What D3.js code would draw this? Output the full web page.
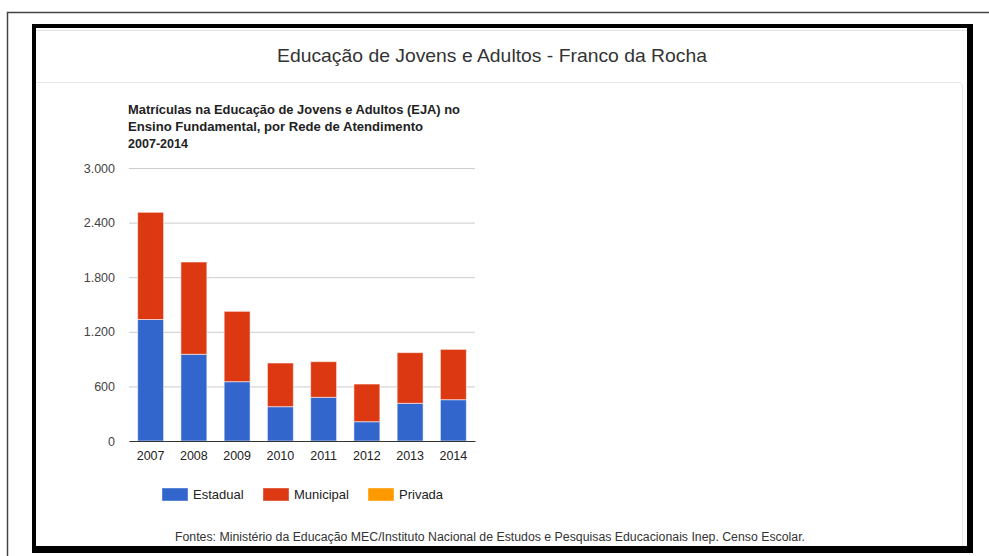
<!DOCTYPE html>
<html>
<head>
<meta charset="utf-8">
<script src="https://cdn.jsdelivr.net/npm/d3@7"></script>
<style>
  html, body { margin: 0; padding: 0; background: #fff; }
  svg { display: block; }
  text { font-family: "Liberation Sans Narrow", "Arial Narrow", "Liberation Sans", Arial, sans-serif; }
</style>
</head>
<body>
<svg id="chart" width="989" height="556"></svg>
<script>
// Matrículas na EJA (Ensino Fundamental) por rede de atendimento
const years = ["2007", "2008", "2009", "2010", "2011", "2012", "2013", "2014"];
const estadual  = [1335, 953, 652, 377, 480, 212, 414, 454];
const municipal = [1178, 1014, 773, 480, 392, 414, 557, 553];
const privada   = [0, 0, 0, 0, 0, 0, 0, 0];

const seriesNames  = ["Estadual", "Municipal", "Privada"];
const seriesColors = ["#3366cc", "#dc3912", "#ff9900"];
const yTicks = [0, 600, 1200, 1800, 2400, 3000];

const pageTitle = "Educação de Jovens e Adultos - Franco da Rocha";
const chartTitle = [
  "Matrículas na Educação de Jovens e Adultos (EJA) no",
  "Ensino Fundamental, por Rede de Atendimento",
  "2007-2014"
];
const sourceNote = "Fontes: Ministério da Educação  MEC/Instituto Nacional de Estudos e Pesquisas Educacionais  Inep. Censo Escolar.";

const svg = d3.select("#chart");

// ---- page frame ----
svg.append("path")
  .attr("d", "M7.5,556 V12.5 H989")
  .attr("fill", "none").attr("stroke", "#444").attr("stroke-width", 1.5);

// panel with header
svg.append("line").attr("x1", 36).attr("x2", 967).attr("y1", 30.5).attr("y2", 30.5)
  .attr("stroke", "#e3e3e3");
svg.append("path")
  .attr("d", "M36,82.5 H958 Q962.5,82.5 962.5,87 V546")
  .attr("fill", "none").attr("stroke", "#e6e6e6").attr("stroke-width", 1);

// thick black border
const border = [
  { x: 32, y: 24, w: 941, h: 4 },
  { x: 32, y: 24, w: 4, h: 529 },
  { x: 967, y: 24, w: 6, h: 529 },
  { x: 32, y: 546, w: 941, h: 7 }
];
svg.selectAll("rect.border").data(border).join("rect")
  .attr("class", "border")
  .attr("x", d => d.x).attr("y", d => d.y).attr("width", d => d.w).attr("height", d => d.h)
  .attr("fill", "#000");

// page title
svg.append("text")
  .attr("x", 492).attr("y", 62)
  .attr("text-anchor", "middle")
  .attr("font-size", 19)
  .attr("fill", "#333")
  .attr("textLength", 430).attr("lengthAdjust", "spacingAndGlyphs")
  .text(pageTitle);

// ---- chart ----
const plot = { left: 129, right: 475, top: 168, bottom: 441 };

const x = d3.scaleBand().domain(years).range([plot.left, plot.right]).paddingInner(0.4).paddingOuter(0.2);
const y = d3.scaleLinear().domain([0, 3000]).range([plot.bottom, plot.top]);

// chart title (bold, three lines)
const titleWidths = [332, 295, 60];
svg.append("g").selectAll("text").data(chartTitle).join("text")
  .attr("x", 128)
  .attr("y", (d, i) => 114 + i * 17)
  .attr("font-size", 13)
  .attr("font-weight", "bold")
  .attr("fill", "#222")
  .attr("textLength", (d, i) => titleWidths[i]).attr("lengthAdjust", "spacingAndGlyphs")
  .text(d => d);

// gridlines + y labels
const yAxis = d3.axisLeft(y).tickValues(yTicks)
  .tickSize(-(plot.right - plot.left))
  .tickPadding(14)
  .tickFormat(d => d3.format(",")(d).replace(/,/g, "."));

const gy = svg.append("g").attr("transform", `translate(${plot.left},0)`).call(yAxis);
gy.select(".domain").remove();
gy.selectAll(".tick line").attr("stroke", "#cccccc");
gy.selectAll(".tick text").attr("font-size", 12.5).attr("fill", "#444")
  .attr("font-family", "\"Liberation Sans\", Arial, sans-serif");

// stacked bars
const rows = years.map((yr, i) => ({ year: yr, Estadual: estadual[i], Municipal: municipal[i], Privada: privada[i] }));
const stacked = d3.stack().keys(seriesNames)(rows);

svg.append("g").selectAll("g").data(stacked).join("g")
  .attr("fill", (d, i) => seriesColors[i])
  .selectAll("rect").data(d => d.filter(s => s[1] > s[0])).join("rect")
  .attr("x", d => x(d.data.year))
  .attr("width", x.bandwidth())
  .attr("y", d => y(d[1]))
  .attr("height", d => y(d[0]) - y(d[1]))
  .attr("stroke", "#ffffff").attr("stroke-opacity", 0.55).attr("stroke-width", 1);

// baseline + year labels
const xAxis = d3.axisBottom(x).tickSize(0).tickPadding(10);
const gx = svg.append("g").attr("transform", `translate(0,${plot.bottom})`).call(xAxis);
gx.select(".domain").attr("stroke", "#333").attr("stroke-width", 1.2);
gx.selectAll(".tick text").attr("font-size", 12.5).attr("fill", "#222")
  .attr("font-family", "\"Liberation Sans\", Arial, sans-serif");

// legend
const legendX = [162, 263, 368];
const lg = svg.append("g").selectAll("g").data(seriesNames).join("g")
  .attr("transform", (d, i) => `translate(${legendX[i]},488)`);
lg.append("rect").attr("width", 26).attr("height", 13)
  .attr("fill", (d, i) => seriesColors[i])
  .attr("stroke", "#ffffff").attr("stroke-opacity", 0.4);
lg.append("text").attr("x", 31).attr("y", 11)
  .attr("font-size", 13).attr("fill", "#222")
  .attr("font-family", "\"Liberation Sans\", Arial, sans-serif")
  .text(d => d);

// source note
svg.append("text")
  .attr("x", 490).attr("y", 541)
  .attr("text-anchor", "middle")
  .attr("font-size", 12)
  .attr("fill", "#333")
  .attr("textLength", 630).attr("lengthAdjust", "spacingAndGlyphs")
  .text(sourceNote);
</script>
</body>
</html>
